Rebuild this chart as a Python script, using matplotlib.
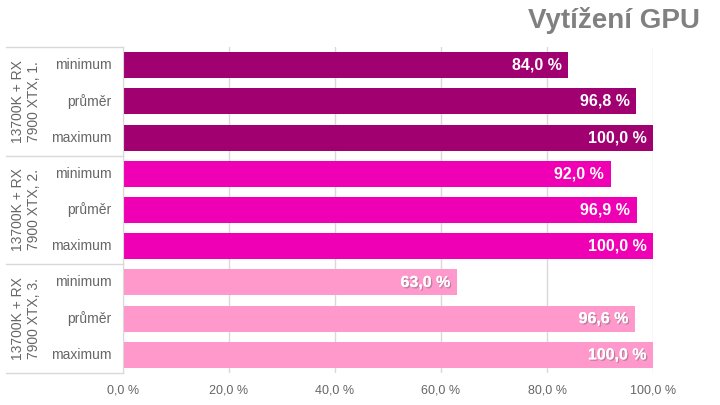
import numpy as np
import matplotlib
matplotlib.use('Agg')
from matplotlib import pyplot as plt
from matplotlib import font_manager
import matplotlib.patheffects as pe

names = [f.name for f in font_manager.fontManager.ttflist]
if 'Liberation Sans Narrow' in names:
    plt.rcParams['font.family'] = ['Liberation Sans Narrow', 'DejaVu Sans']
else:
    plt.rcParams['font.family'] = ['Liberation Sans', 'DejaVu Sans']

groups = ['13700K + RX\n7900 XTX, 1.', '13700K + RX\n7900 XTX, 2.', '13700K + RX\n7900 XTX, 3.']
metrics = ['minimum', 'průměr', 'maximum']
values_1 = [84.0, 96.8, 100.0]
values_2 = [92.0, 96.9, 100.0]
values_3 = [63.0, 96.6, 100.0]
group_colors = ['#A00070', '#F000B4', '#FF99CC']
ticks = [0, 20, 40, 60, 80, 100]

def pct(v):
    return f'{v:.1f} %'.replace('.', ',')

fig = plt.figure(figsize=(7.2, 4.05), dpi=100)
W, H = 720, 405
x0, x1, y0, y1 = 123, 653, 47, 373
ax = fig.add_axes([x0 / W, 1 - y1 / H, (x1 - x0) / W, (y1 - y0) / H])

all_vals = [values_1, values_2, values_3]
for g, vals in enumerate(all_vals):
    for m, v in enumerate(vals):
        y = g * 3 + m
        ax.barh(y, v, height=0.72, color=group_colors[g], zorder=2)
        t = ax.text(v - 1.2, y, pct(v), ha='right', va='center', color='white',
                    fontsize=11.5, fontweight='bold', zorder=3)
        if g == 2:
            t.set_path_effects([pe.withSimplePatchShadow(offset=(1, -1), alpha=0.35), pe.Normal()])
        ax.text(-2.2, y, metrics[m], ha='right', va='center', color='#666666',
                fontsize=10, clip_on=False)

ax.set_xlim(0, 100)
ax.set_ylim(8.5, -0.5)
ax.set_yticks([])
ax.set_xticks(ticks)
ax.set_xticklabels([pct(t) for t in ticks], color='#666666', fontsize=9)
ax.tick_params(axis='x', length=0, pad=8)
ax.grid(axis='x', color='#d9d9d9', linewidth=1, zorder=0)
for s in ['top', 'right', 'bottom']:
    ax.spines[s].set_visible(False)
ax.spines['left'].set_color('#d9d9d9')

# group separators and group labels on the left
for g in range(4):
    yy = 1 - (y0 + g * (y1 - y0) / 3) / H
    fig.add_artist(plt.Line2D([6 / W, x0 / W], [yy, yy], color='#d9d9d9', linewidth=1))
for g, name in enumerate(groups):
    yc = 1 - (y0 + (g + 0.5) * (y1 - y0) / 3) / H
    fig.text(26 / W, yc, name, rotation=90, ha='center', va='center',
             color='#666666', fontsize=10, multialignment='center', linespacing=1.15)

fig.text(700 / W, 1 - 20 / H, 'Vytížení GPU', ha='right', va='center',
         color='#808080', fontsize=20, fontweight='bold')

fig.savefig('out.png', dpi=100)
